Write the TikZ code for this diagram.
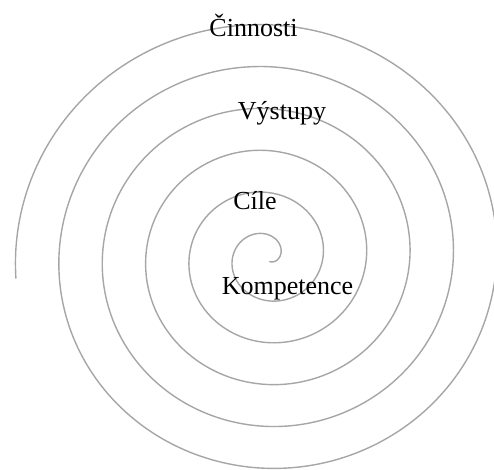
\documentclass[tikz,border=0pt]{standalone}
\usepackage{fontspec}
\setmainfont{Liberation Serif}
\begin{document}
\begin{tikzpicture}[x=0.5pt,y=-0.5pt,every node/.style={font=\fontsize{13pt}{15pt}\selectfont,anchor=base,inner sep=0pt}]
\useasboundingbox (0,0) rectangle (494,470);
\coordinate (o) at (267,257);
% spiral: r = 12.5 + 43 per turn
\draw[shift={(o)},gray!70,line width=.7pt,line cap=round] plot[domain=-60:1985,samples=600,smooth]
  ({1.01*(12.5+0.119444*\x)*cos(\x)},{-0.975*(12.5+0.119444*\x)*sin(\x)});
\node (cin) at (253.5,37) {Činnosti};
\node (vys) at (282,120) {Výstupy};
\node (cil) at (255,210) {Cíle};
\node (komp) at (287.5,295) {Kompetence};
\end{tikzpicture}
\end{document}
